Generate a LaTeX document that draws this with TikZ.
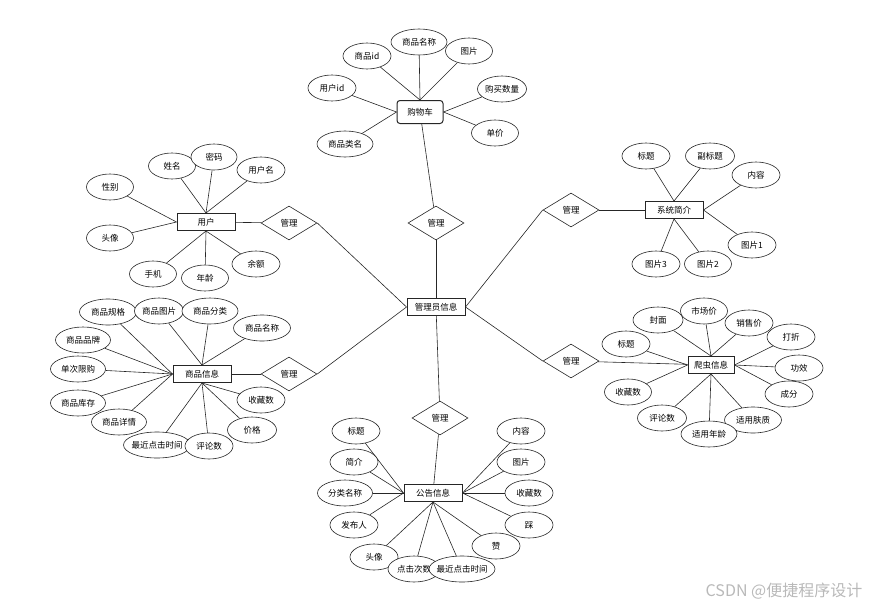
\documentclass[tikz,border=0pt]{standalone}
\usepackage{fontspec}
\setmainfont{Noto Sans CJK SC}
\usetikzlibrary{shapes.geometric}

\begin{document}
\begin{tikzpicture}[
    x=1pt, y=-1pt,
    font=\fontsize{8.5}{10}\selectfont,
    entity/.style={rectangle, draw=black!85, line width=1pt, fill=white, minimum width=58pt, minimum height=17pt, inner sep=1pt},
    attr/.style={ellipse, draw=black!85, line width=0.6pt, fill=white, minimum height=26pt, inner xsep=-3pt, inner ysep=0pt},
    rel/.style={diamond, draw=black!85, line width=0.6pt, fill=white, minimum width=56pt, minimum height=34pt, inner sep=0pt},
    link/.style={draw=black!85, line width=0.6pt}
  ]
  \useasboundingbox (0,0) rectangle (870,605);

  % entities
  \node[entity] (admin) at (436,307) {管理员信息};
  \node[entity, rounded corners=3pt, minimum width=46pt, minimum height=23pt] (cart) at (420,112) {购物车};
  \node[entity] (user) at (206,222) {用户};
  \node[entity] (goods) at (202,374) {商品信息};
  \node[entity] (intro) at (674,210) {系统简介};
  \node[entity, minimum width=46pt] (spider) at (711,365) {爬虫信息};
  \node[entity] (notice) at (433,493) {公告信息};

  % relations
  \node[rel] (mcart) at (436,223) {管理};
  \node[rel] (muser) at (289,223) {管理};
  \node[rel] (mgoods) at (289,374) {管理};
  \node[rel] (mnotice) at (440,418) {管理};
  \node[rel] (mintro) at (571,210) {管理};
  \node[rel] (mspider) at (571,361) {管理};

  \draw[link] (cart) -- (mcart);
  \draw[link] (mcart) -- (admin);
  \draw[link] (user) -- (muser);
  \draw[link] (muser.east) -- (admin.west);
  \draw[link] (goods) -- (mgoods);
  \draw[link] (mgoods.east) -- (admin.west);
  \draw[link] (admin) -- (mnotice);
  \draw[link] (mnotice) -- (notice);
  \draw[link] (admin.east) -- (mintro.west);
  \draw[link] (mintro) -- (intro);
  \draw[link] (admin.east) -- (mspider.west);
  \draw[link] (mspider) -- (spider);

  % attributes: name/x/y/width/anchor/text
  \foreach \n/\x/\y/\w/\a/\t in {cid/367/56/48/north/商品id, cname/419/42/56/north/商品名称,
      cpic/469/51/47/north/图片, uid/332/88/48/west/用户id, cnum/502/89/49/east/购买数量,
      cprice/495/133/47/east/单价, ctype/345/144/56/west/商品类名}
  {
    \node[attr, minimum width=\w pt] (\n) at (\x,\y) {\t};
    \draw[link] (\n) -- (cart.\a);
  }

  \foreach \n/\x/\y/\w/\a/\t in {sex/110/187/47/west/性别, name/172/166/47/north/姓名,
      pwd/214/157/46/north/密码, uname/261/170/48/north/用户名, avatar/110/238/47/west/头像,
      phone/153/274/47/south/手机, age/205/278/47/south/年龄, balance/256/264/48/south/余额}
  {
    \node[attr, minimum width=\w pt] (\n) at (\x,\y) {\t};
    \draw[link] (\n) -- (user.\a);
  }

  \foreach \n/\x/\y/\w/\a/\t in {gspec/108/312/57/west/商品规格, gpic/159/311/49/north/商品图片,
      gcat/210/311/56/north/商品分类, gname/262/328/57/north/商品名称, gbrand/83/340/55/west/商品品牌,
      glimit/78/369/55/west/单次限购, gstock/78/403/55/west/商品库存, gdetail/119/422/55/west/商品详情,
      gtime/157/445/67/south/最近点击时间, greview/209/446/48/south/评论数,
      gprice/252/430/49/south/价格, gfav/261/400/48/south/收藏数}
  {
    \node[attr, minimum width=\w pt] (\n) at (\x,\y) {\t};
    \draw[link] (\n) -- (goods.\a);
  }

  \foreach \n/\x/\y/\w/\a/\t in {ititle/646/156/48/north/标题, isub/710/156/49/north/副标题,
      icont/756/175/48/east/内容, ipic1/752/245/48/east/图片1,
      ipic2/708/264/47/south/图片2, ipic3/656/264/48/south/图片3}
  {
    \node[attr, minimum width=\w pt] (\n) at (\x,\y) {\t};
    \draw[link] (\n) -- (intro.\a);
  }

  \foreach \n/\x/\y/\w/\a/\t in {scover/658/320/50/north/封面, smarket/704/311/47/north/市场价,
      ssale/749/323/48/north/销售价, sdisc/791/337/48/east/打折, seffect/799/368/48/east/功效,
      singr/789/394/48/east/成分, sskin/753/420/57/south/适用肤质, sage/709/434/56/south/适用年龄,
      sreview/662/418/49/south/评论数, sfav/628/392/47/west/收藏数, stitle/626/344/48/west/标题}
  {
    \node[attr, minimum width=\w pt] (\n) at (\x,\y) {\t};
    \draw[link] (\n) -- (spider.\a);
  }

  \foreach \n/\x/\y/\w/\a/\t in {ntitle/356/431/48/west/标题, nintro/354/462/48/west/简介,
      ncat/345/493/55/west/分类名称, npub/354/525/48/west/发布人, navatar/374/557/48/south/头像,
      nclick/414/569/52/south/点击次数, ntime/462/569/66/south/最近点击时间, nlike/496/546/48/south/赞,
      ndislike/529/525/48/east/踩, nfav/529/493/48/east/收藏数, npic/521/462/48/east/图片,
      ncont/521/431/48/east/内容}
  {
    \node[attr, minimum width=\w pt] (\n) at (\x,\y) {\t};
    \draw[link] (\n) -- (notice.\a);
  }

  \node[text=gray!55, font=\fontsize{16}{18}\selectfont] (mark) at (784,591) {CSDN @便捷程序设计};
\end{tikzpicture}
\end{document}
